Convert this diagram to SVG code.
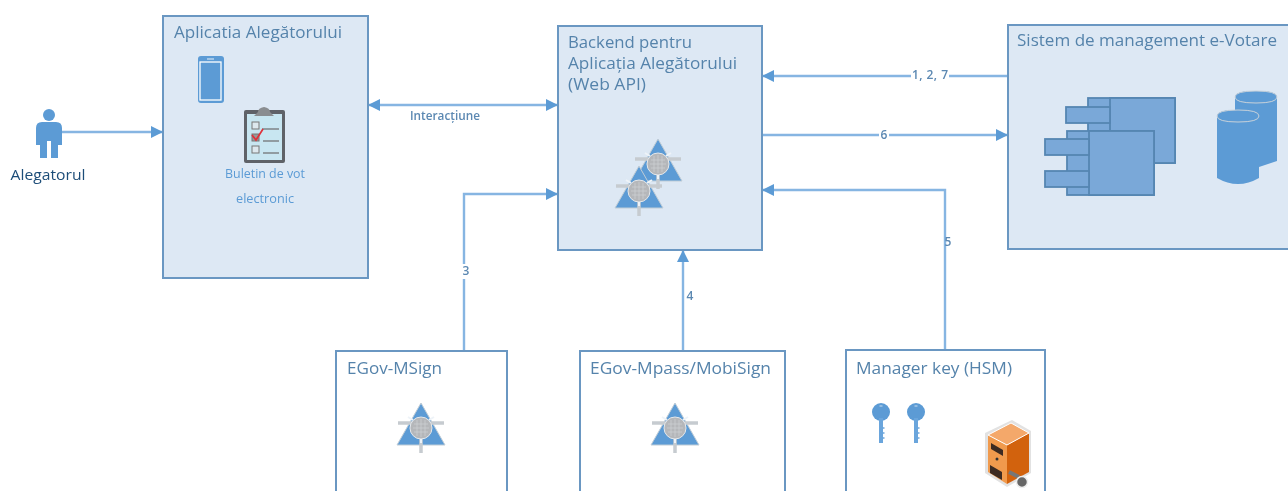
<svg xmlns="http://www.w3.org/2000/svg" width="1288" height="491" viewBox="0 0 1288 491">
<style>
.box{fill:#dde8f4;stroke:#6b97c2;stroke-width:2}
.wbox{fill:#fff;stroke:#6b97c2;stroke-width:2}
.t{font-family:"Open Sans","Liberation Sans",sans-serif;font-size:16px;fill:#5583ab}
.l{font-family:"Open Sans","Liberation Sans",sans-serif;font-size:12px;font-weight:600;fill:#5b88b2}
.c{font-family:"Open Sans","Liberation Sans",sans-serif;font-size:12.5px;fill:#5b9bd5}
.w{fill:none;stroke:#86b5e2;stroke-width:2.4}
.comp{fill:#7aa8d8;stroke:#5586b2;stroke-width:1.8}
</style>
<defs>
<marker id="a" viewBox="0 0 12 12" refX="11" refY="6" markerWidth="12" markerHeight="12" markerUnits="userSpaceOnUse" orient="auto-start-reverse"><path d="M0 0L12 6L0 12Z" fill="#5b9bd5"/></marker>
<filter id="soft" filterUnits="userSpaceOnUse" x="0" y="0" width="1288" height="491"><feGaussianBlur stdDeviation="0.5"/></filter>
<filter id="s" x="-15%" y="-15%" width="130%" height="130%"><feGaussianBlur stdDeviation="0.4"/></filter>
<g id="net">
<path d="M0-25L24 17H-24Z" fill="#5b9bd5" stroke="#c0ccd6" stroke-width="1"/>
<path d="M-23-5H23M0 10V25" fill="none" stroke="#c6cbd0" stroke-width="3.5"/>
<circle r="11" fill="#b5b7ba" stroke="#e4e8ec" stroke-width="1"/>
<path d="M-7-4H7M-8 0H8M-7 4H7M-4-8V8M0-9V9M4-8V8" stroke="#cfd1d4" stroke-width=".7" fill="none"/>
<path d="M-8-8L-13-11M8-8L13-11M0 11V15" stroke="#eef3f8" stroke-width="2"/>
</g>
<g id="key">
<circle cx="0" cy="0" r="9" fill="#5b9bd5"/>
<path d="M0 6V31" stroke="#6ba5dc" stroke-width="4"/>
<path d="M2 16H3.5M2 21H3.5M2 26H3.5" stroke="#6ba5dc" stroke-width="1.6"/>
<path d="M-1.5-6H1.5" stroke="#cfe0f0" stroke-width="1"/>
</g>
</defs>
<g filter="url(#soft)">
<g id="connectors">
<path class="w" d="M62 132H162" marker-end="url(#a)"/>
<path class="w" d="M369 105H557" marker-start="url(#a)" marker-end="url(#a)"/>
<path class="w" d="M1008 76H763" marker-end="url(#a)"/>
<path class="w" d="M762 135H1007" marker-end="url(#a)"/>
<path class="w" d="M464 351V194H557" marker-end="url(#a)"/>
<path class="w" d="M683 351V251" marker-end="url(#a)"/>
<path class="w" d="M945 350V190H763" marker-end="url(#a)"/>
<text class="l" x="445" y="120" text-anchor="middle" textLength="70" lengthAdjust="spacingAndGlyphs">Interacțiune</text>
<rect x="911" y="70" width="38" height="12" fill="#fff"/>
<text class="l" x="930" y="79" text-anchor="middle" textLength="36" lengthAdjust="spacing">1, 2, 7</text>
<rect x="879" y="129" width="10" height="12" fill="#fff"/>
<text class="l" x="884" y="139" text-anchor="middle">6</text>
<rect x="458" y="264" width="14" height="15" fill="#fff"/>
<text class="l" x="466" y="275" text-anchor="middle">3</text>
<text class="l" x="690" y="300" text-anchor="middle">4</text>
<text class="l" x="948" y="246" text-anchor="middle">5</text>
</g>

<g id="alegatorul">
<g fill="#5b9bd5">
<circle cx="49" cy="115" r="6"/>
<path d="M36 128Q36 122 42 122H56Q62 122 62 128V145H58V158H51V141H47V158H40V145H36Z"/>
</g>
<text x="48" y="180" text-anchor="middle" font-family="Open Sans,Liberation Sans,sans-serif" font-size="15" fill="#1f4e79" textLength="75" lengthAdjust="spacingAndGlyphs">Alegatorul</text>
</g>

<g id="aplicatia">
<rect class="box" x="163" y="16" width="205" height="262"/>
<text class="t" x="174" y="38" textLength="168" lengthAdjust="spacingAndGlyphs">Aplicatia Alegătorului</text>
<g>
<rect x="198" y="56" width="26" height="47" rx="3" fill="#5b9bd5"/>
<rect x="200" y="62" width="21" height="38" fill="#5b9bd5" stroke="#fff" stroke-width="1.3"/>
<path d="M207 59H214" stroke="#eaf2fa" stroke-width="1"/>
</g>
<g>
<rect x="244" y="110" width="41" height="53" rx="2" fill="#5f6267"/>
<rect x="247" y="114" width="35" height="46" fill="#c8e6f1"/>
<path d="M258 112Q258 108 264 107Q270 108 270 112L274 116H254Z" fill="#8a8d90"/>
<rect x="252" y="122" width="7" height="7" fill="#dde8ee" stroke="#777"/>
<rect x="252" y="134" width="7" height="7" fill="#999" stroke="#777"/>
<rect x="252" y="146" width="7" height="7" fill="#dde8ee" stroke="#777"/>
<path d="M262 129H279M263 141H279M263 153H279" stroke="#7d8487" stroke-width="1.3"/>
<path d="M252 135L256 140L263 129" fill="none" stroke="#e0303a" stroke-width="1.7"/>
</g>
<text class="c" x="265" y="178" text-anchor="middle" textLength="80" lengthAdjust="spacingAndGlyphs">Buletin de vot</text>
<text class="c" x="265" y="203" text-anchor="middle" textLength="58" lengthAdjust="spacingAndGlyphs">electronic</text>
</g>

<g id="backend">
<rect class="box" x="558" y="26" width="204" height="224"/>
<text class="t" x="568" y="48" textLength="124" lengthAdjust="spacingAndGlyphs">Backend pentru</text>
<text class="t" x="568" y="69" textLength="169" lengthAdjust="spacingAndGlyphs">Aplicația Alegătorului</text>
<text class="t" x="568" y="90" textLength="78" lengthAdjust="spacingAndGlyphs">(Web API)</text>
<use href="#net" x="658" y="164"/>
<use href="#net" x="639" y="191"/>
</g>

<g id="sistem">
<rect class="box" x="1008" y="25" width="290" height="224"/>
<text class="t" x="1017" y="46" textLength="260" lengthAdjust="spacingAndGlyphs">Sistem de management e-Votare</text>
<g>
<rect class="comp" x="1088" y="98" width="87" height="65"/>
<rect class="comp" x="1110" y="98" width="65" height="65"/>
<rect class="comp" x="1066" y="107" width="44" height="16"/>
<rect class="comp" x="1067" y="131" width="87" height="64"/>
<rect class="comp" x="1089" y="131" width="65" height="64"/>
<rect class="comp" x="1045" y="139" width="44" height="16"/>
<rect class="comp" x="1045" y="171" width="44" height="16"/>
<path d="M1235 97Q1235 91 1256 91Q1277 91 1277 97V161L1235 175Z" fill="#5b9bd5"/>
<path d="M1235 97Q1235 103 1256 103Q1277 103 1277 97Q1277 91 1256 91Q1235 91 1235 97Z" fill="#5b9bd5" stroke="#c9d2da"/>
<path d="M1217 116Q1217 110 1238 110Q1259 110 1259 116V178Q1238 190 1217 178Z" fill="#5b9bd5"/>
<path d="M1217 116Q1217 122 1238 122Q1259 122 1259 116Q1259 110 1238 110Q1217 110 1217 116Z" fill="#5b9bd5" stroke="#c9d2da"/>
</g>
</g>

<g id="egov-msign">
<rect class="wbox" x="336" y="351" width="171" height="150"/>
<text class="t" x="347" y="374" textLength="95" lengthAdjust="spacingAndGlyphs">EGov-MSign</text>
<use href="#net" x="421" y="428"/>
</g>

<g id="egov-mpass">
<rect class="wbox" x="580" y="351" width="205" height="150"/>
<text class="t" x="590" y="374" textLength="181" lengthAdjust="spacingAndGlyphs">EGov-Mpass/MobiSign</text>
<use href="#net" x="675" y="428"/>
</g>

<g id="manager-key">
<rect class="wbox" x="846" y="350" width="199" height="151"/>
<text class="t" x="856" y="374" textLength="156" lengthAdjust="spacingAndGlyphs">Manager key (HSM)</text>
<use href="#key" x="881" y="412" filter="url(#s)"/>
<use href="#key" x="916" y="412" filter="url(#s)"/>
<g>
<path d="M985 433L1012 420L1031 431V473L1007 487L985 473Z" fill="#e2e2e2"/>
<path d="M988 435L1007 445V484L988 472Z" fill="#f09a4e"/>
<path d="M1007 445L1029 433V472L1007 484Z" fill="#d2620f"/>
<path d="M988 435L1011 423L1029 433L1007 445Z" fill="#f4a86a" stroke="#fff"/>
<path d="M991 443L1003 450V456L991 449Z" fill="#3a2a20"/>
<circle cx="997" cy="459" r="1.5" fill="#333"/>
<path d="M990 465L1002 472V480L990 473Z" fill="#3a2a20"/>
<path d="M1009 472L1019 477" stroke="#777" stroke-width="4"/>
<circle cx="1022" cy="482" r="5.5" fill="#666" stroke="#eee" stroke-width="1.5"/>
</g>
</g>
</g>
</svg>
